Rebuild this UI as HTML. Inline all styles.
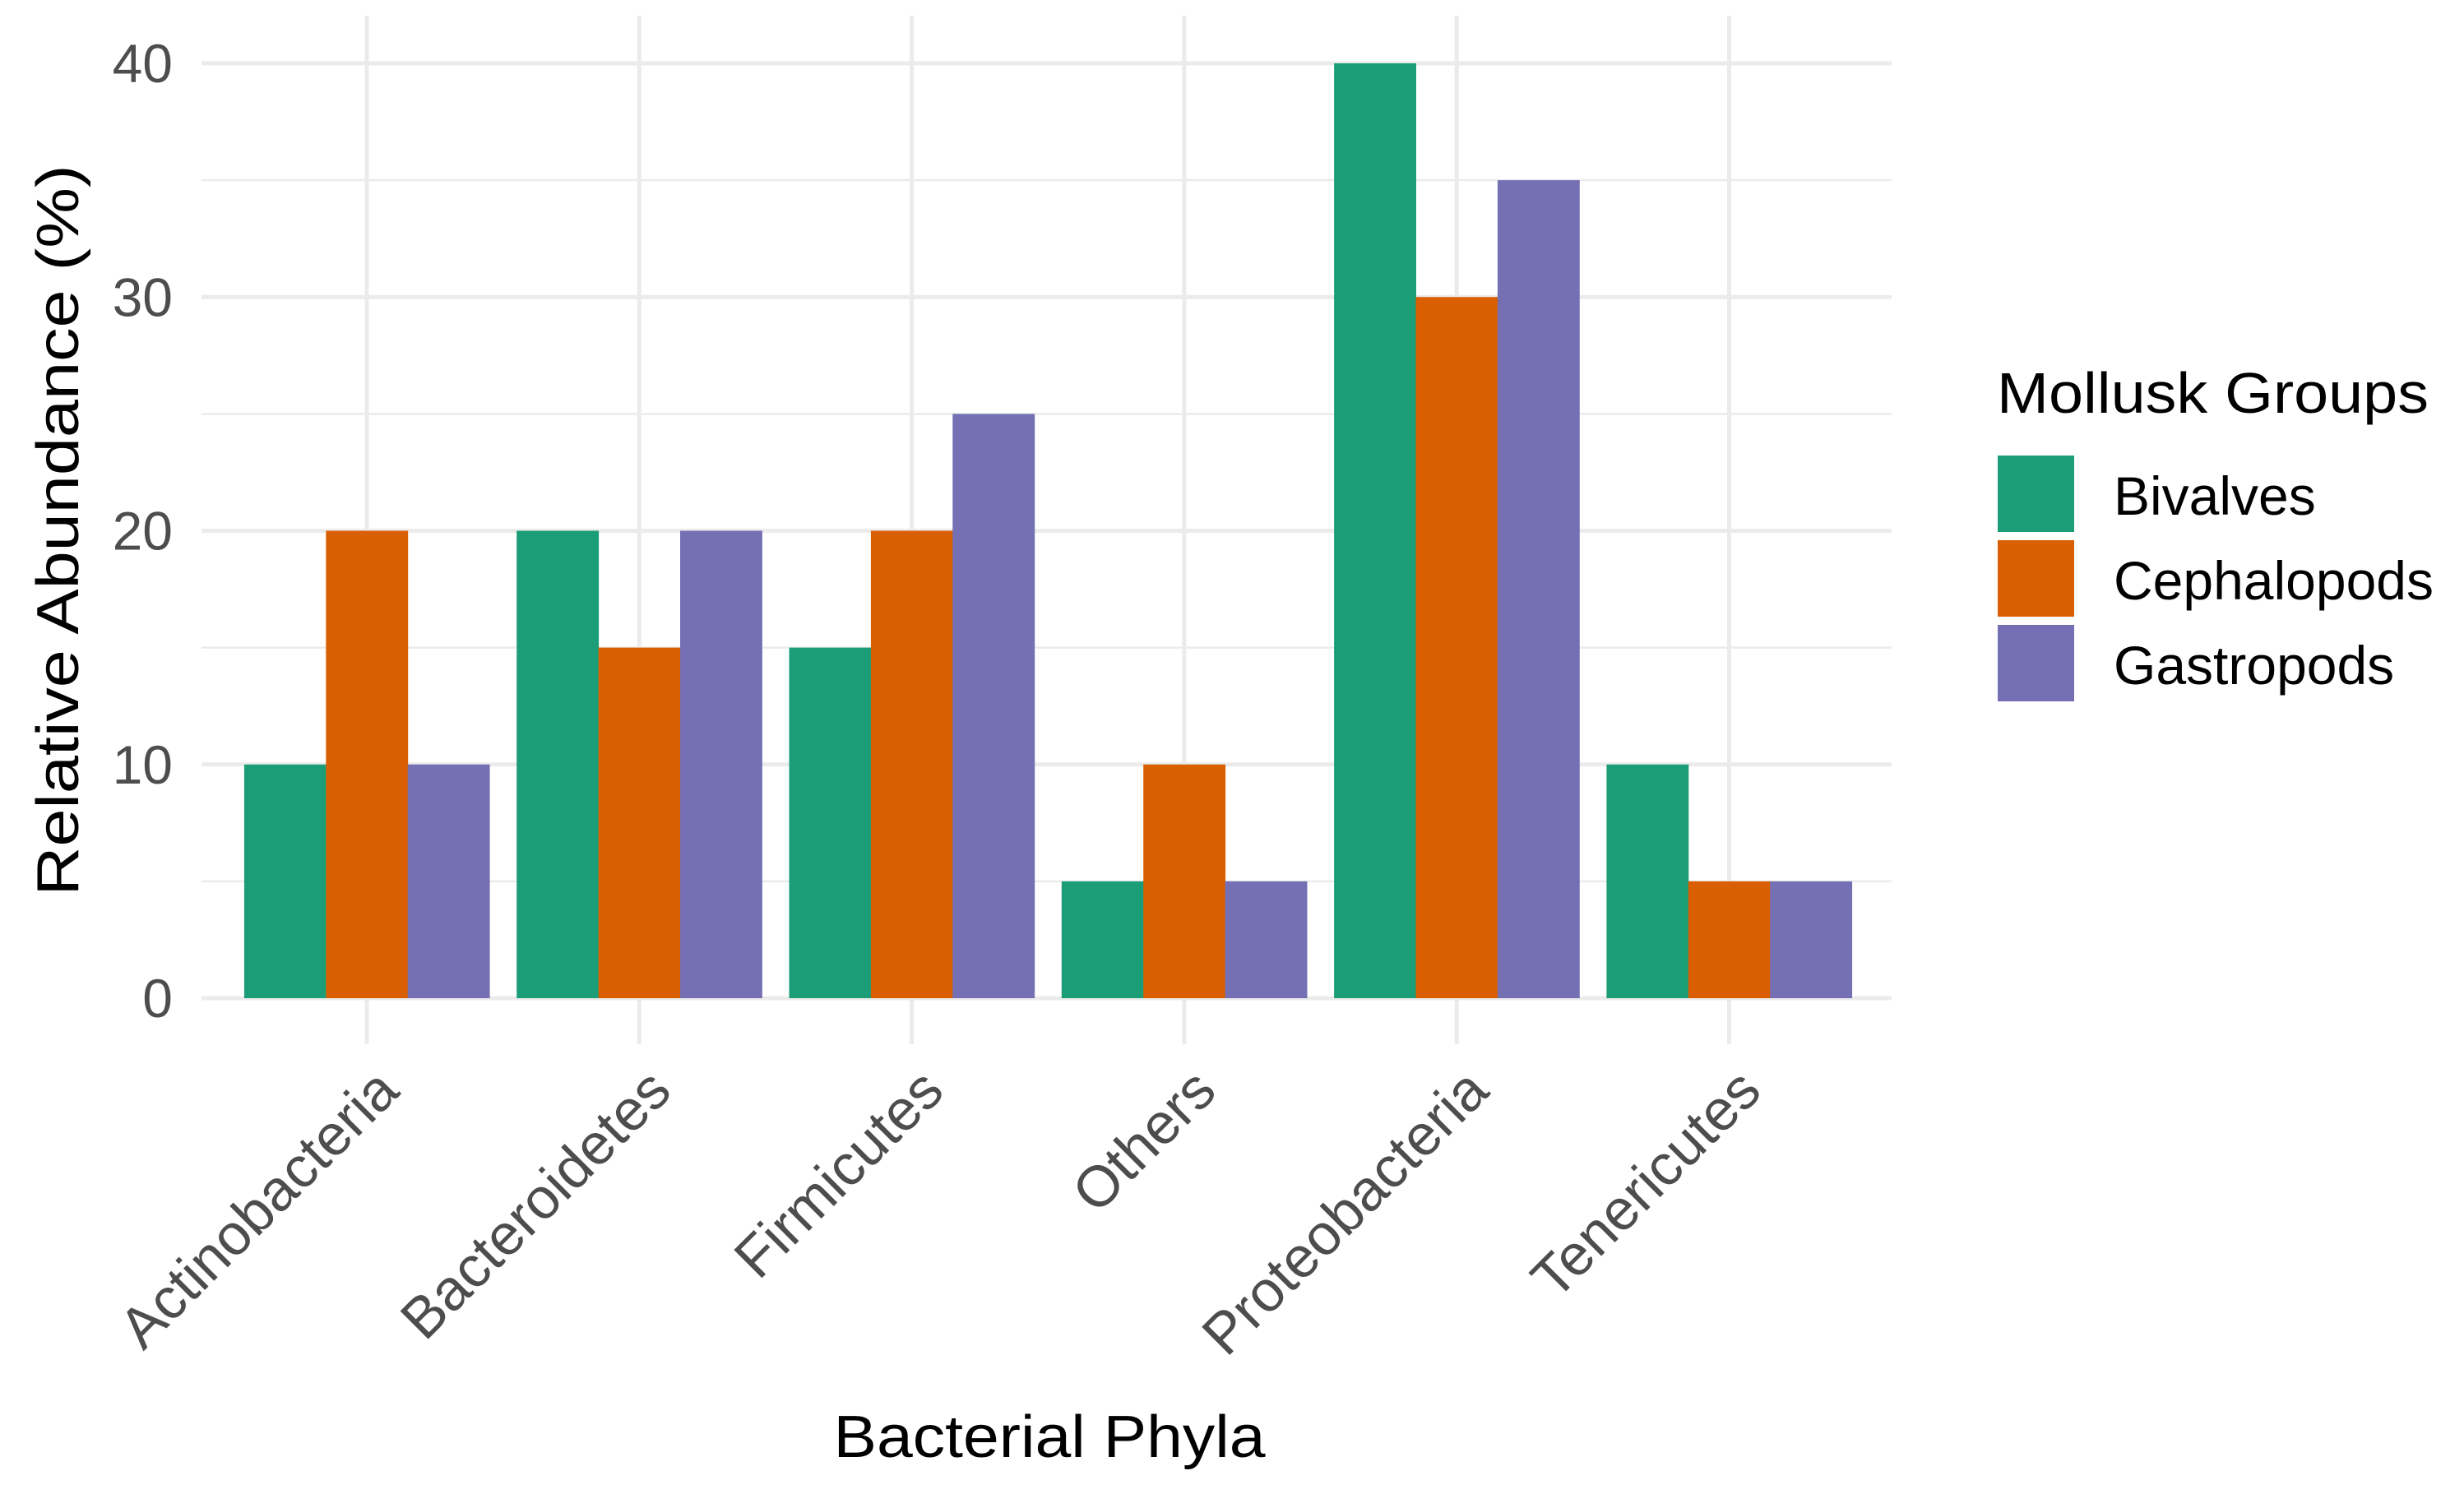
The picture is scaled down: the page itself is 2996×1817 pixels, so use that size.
<!DOCTYPE html>
<html><head><meta charset="utf-8"><style>
html,body{margin:0;padding:0;background:#fff}
svg{display:block;font-family:"Liberation Sans",Arial,sans-serif}
</style></head><body>
<svg id="chart" width="2996" height="1817" viewBox="0 0 2996 1817">
<g id="grid"></g>
<g id="bars"></g>
<g id="axes"></g>
<text x="0" y="0" transform="translate(95,645) rotate(-90)" text-anchor="middle" font-size="72" fill="#000" textLength="889" lengthAdjust="spacingAndGlyphs">Relative Abundance (%)</text>
<text x="1276" y="1772" text-anchor="middle" font-size="72" fill="#000" textLength="525" lengthAdjust="spacingAndGlyphs">Bacterial Phyla</text>
<g id="legend">
<text x="2428" y="502" font-size="70" fill="#000" textLength="525" lengthAdjust="spacingAndGlyphs">Mollusk Groups</text>
</g>
</svg>
<script>
const categories = ["Actinobacteria","Bacteroidetes","Firmicutes","Others","Proteobacteria","Tenericutes"];
const seriesNames = ["Bivalves","Cephalopods","Gastropods"];
const bivalves = [10,20,15,5,40,10];
const cephalopods = [20,15,20,10,30,5];
const gastropods = [10,20,25,5,35,5];
const yTicks = [0,10,20,30,40];
const colors = ["#1b9e77","#d95f02","#7570b3"];
const series = [bivalves, cephalopods, gastropods];
const NS = "http://www.w3.org/2000/svg";
const y0 = 1214, yTop = 77, vmax = 40;
function yScale(v){ return y0 - v*(y0-yTop)/vmax; }
const step = 331.3;
function xScale(i){ return 446 + i*step; }
const barW = step*0.9/3;
const plotL = 245, plotR = 2300, plotT = 19, plotB = 1270;
function mk(tag, attrs, parent){ const e=document.createElementNS(NS,tag); for(const k in attrs) e.setAttribute(k,attrs[k]); parent.appendChild(e); return e; }
const grid = document.getElementById('grid');
for(let i=0;i<yTicks.length-1;i++){
  const v=(yTicks[i]+yTicks[i+1])/2;
  const l=mk('line',{x1:plotL,x2:plotR,y1:yScale(v),y2:yScale(v),stroke:'#ebebeb','stroke-width':2.5},grid);
  
  
}
yTicks.forEach(v=>{
  const l=mk('line',{x1:plotL,x2:plotR,y1:yScale(v),y2:yScale(v),stroke:'#ebebeb','stroke-width':5},grid);
  
  
});
categories.forEach((c,i)=>{
  const l=mk('line',{x1:xScale(i),x2:xScale(i),y1:plotT,y2:plotB,stroke:'#ebebeb','stroke-width':5},grid);
  
  
});
const bars=document.getElementById('bars');
series.forEach((s,j)=>{
  s.forEach((v,i)=>{
    const x=xScale(i)-1.5*barW+j*barW;
    const r=mk('rect',{x:x,y:yScale(v),width:barW+0.5,height:yScale(0)-yScale(v),fill:colors[j]},bars);
    
    
  });
});
const axes=document.getElementById('axes');
yTicks.forEach(v=>{
  const t=mk('text',{x:210,y:yScale(v)+23,'text-anchor':'end','font-size':66,fill:'#4d4d4d'},axes);
  t.textContent=v;
  
  
});
categories.forEach((c,i)=>{
  const cx=xScale(i)+42, cy=1330;
  const t=mk('text',{x:0,y:0,transform:'translate('+cx+','+cy+') rotate(-45)','text-anchor':'end','font-size':70,fill:'#4d4d4d'},axes);
  t.textContent=c;
  
  
});
const legend=document.getElementById('legend');
const keyY=[554,657,760];
seriesNames.forEach((n,j)=>{
  const r=mk('rect',{x:2429,y:keyY[j],width:93,height:93,fill:colors[j]},legend);
  
  
  const t=mk('text',{x:2570,y:keyY[j]+72,'font-size':66,fill:'#000'},legend);
  t.textContent=n;
  
  
});
</script>
</body></html>
